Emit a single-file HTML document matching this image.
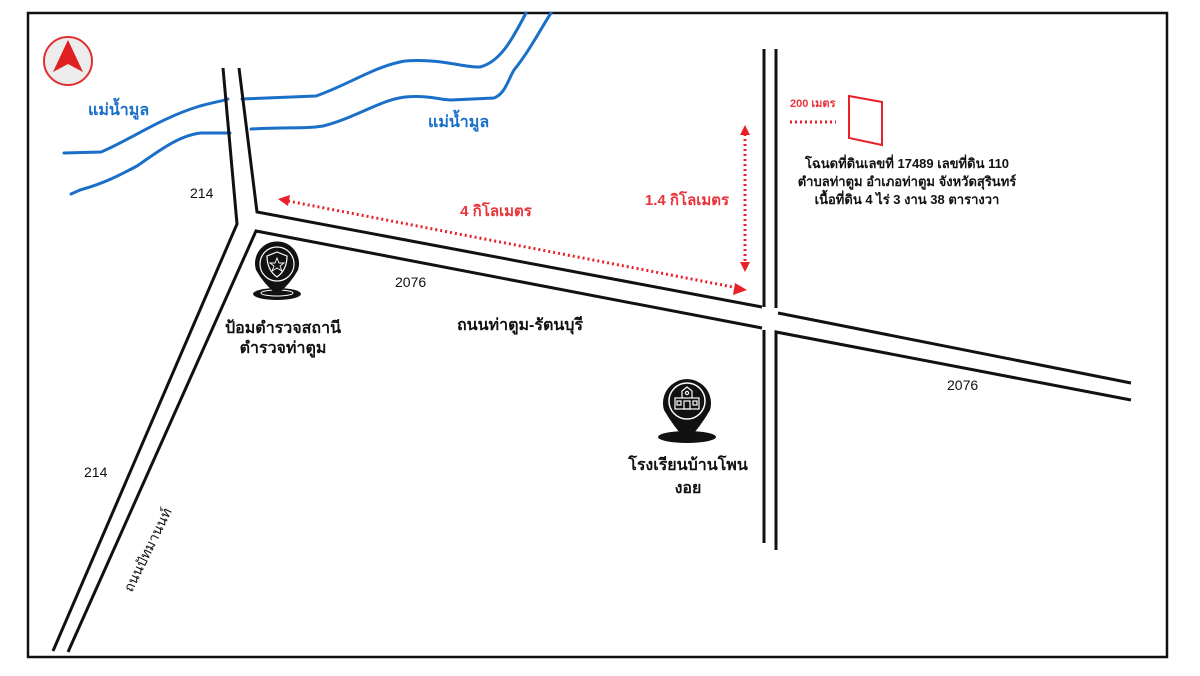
<!DOCTYPE html>
<html><head><meta charset="utf-8"><style>
html,body{margin:0;padding:0;background:#fff;}
svg{display:block;}
text{font-family:"Liberation Sans","Noto Sans CJK SC",sans-serif;}
</style></head><body>
<svg width="1200" height="676" viewBox="0 0 1200 676" xmlns="http://www.w3.org/2000/svg">
<rect x="0" y="0" width="1200" height="676" fill="#fff"/>
<rect x="28" y="13" width="1139" height="644" fill="none" stroke="#111" stroke-width="2.5"/>

<!-- rivers -->
<g fill="none" stroke="#1a6fc8" stroke-width="3" stroke-linecap="round">
<path d="M64,153 L101,152 C130,140 160,118 200,106 C215,102 222,101 228,99"/>
<path d="M242,99 L316,96 C350,84 375,66 405,61 C440,58 465,68 480,67 C500,62 512,40 526,13"/>
<path d="M71,194 L80,190 C105,183 120,175 137,166 C160,150 180,135 201,133 L230,133"/>
<path d="M251,129 C290,127 305,129 323,126 C355,118 380,100 405,97 C430,95 440,100 451,100 L494,98 C505,94 508,80 514,70 C530,50 540,30 551,13"/>
</g>

<!-- roads -->
<g fill="none" stroke="#111" stroke-width="3" stroke-linecap="butt">
<polyline points="223,68 237,224 53,651"/>
<polyline points="239,68 257,212 762,307"/>
<polyline points="68,652 256,231 762,328"/>
<line x1="764" y1="49" x2="764" y2="307"/>
<line x1="776" y1="49" x2="776" y2="308"/>
<polyline points="778,313 1131,383"/>
<line x1="764" y1="330" x2="764" y2="543"/>
<polyline points="776,550 776,332 1131,400"/>
</g>

<!-- north arrow -->
<circle cx="68" cy="61" r="24" fill="#ececec" stroke="#e03030" stroke-width="2"/>
<polygon points="68,40 83,72 68,64 53,72" fill="#e02020"/>

<!-- red dotted distances -->
<g stroke="#e8202a" stroke-width="3" stroke-dasharray="2,3" fill="none">
<line x1="288" y1="201" x2="738" y2="288"/>
<line x1="745" y1="134" x2="745" y2="263"/>
<line x1="790" y1="122" x2="836" y2="122"/>
</g>
<g fill="#e8202a">
<polygon points="278,199 290,195 288,206"/>
<polygon points="747,290 735,283 733,295"/>
<polygon points="745,125 740,135 750,135"/>
<polygon points="745,272 740,262 750,262"/>
</g>
<polygon points="849,96 882,102 882,145 849,138" fill="none" stroke="#e8202a" stroke-width="2"/>

<!-- text -->
<g font-weight="bold" fill="#1a6fc8" font-size="16">
<text x="88" y="115">แม่น้ำมูล</text>
<text x="428" y="127">แม่น้ำมูล</text>
</g>
<g fill="#e8333a" font-weight="bold">
<text x="496" y="216" font-size="15" text-anchor="middle">4 กิโลเมตร</text>
<text x="687" y="205" font-size="15" text-anchor="middle">1.4 กิโลเมตร</text>
<text x="790" y="107" font-size="11">200 เมตร</text>
</g>
<g fill="#111" font-size="14">
<text x="190" y="198">214</text>
<text x="84" y="477">214</text>
<text x="395" y="287">2076</text>
<text x="947" y="390">2076</text>
</g>
<g fill="#111" font-weight="bold" font-size="13" text-anchor="middle">
<text x="907" y="168">โฉนดที่ดินเลขที่ 17489 เลขที่ดิน 110</text>
<text x="907" y="186">ตำบลท่าตูม อำเภอท่าตูม จังหวัดสุรินทร์</text>
<text x="907" y="204">เนื้อที่ดิน 4 ไร่ 3 งาน 38 ตารางวา</text>
</g>
<g fill="#111" font-weight="bold" font-size="16" text-anchor="middle">
<text x="520" y="330">ถนนท่าตูม-รัตนบุรี</text>
<text x="283" y="333">ป้อมตำรวจสถานี</text>
<text x="283" y="353">ตำรวจท่าตูม</text>
<text x="688" y="470">โรงเรียนบ้านโพน</text>
<text x="688" y="493">งอย</text>
</g>
<text x="0" y="0" font-size="14" fill="#111" text-anchor="middle" transform="translate(152,552) rotate(-64)">ถนนปัทมานนท์</text>

<!-- police pin -->
<ellipse cx="277" cy="294" rx="24" ry="6" fill="#111"/>
<ellipse cx="277" cy="293" rx="16" ry="3" fill="none" stroke="#fff" stroke-width="1"/>
<path d="M256,270 A22,22 0 1 1 298,270 Q291,283 277,295 Q263,283 256,270 Z" fill="#111"/>
<circle cx="277" cy="264" r="17" fill="none" stroke="#fff" stroke-width="1.2"/>
<path d="M277,252 L287,256 Q287,270 277,277 Q267,270 267,256 Z" fill="none" stroke="#fff" stroke-width="1.2"/>
<polygon points="277,258 279,263 284,263 280,266 282,271 277,268 272,271 274,266 270,263 275,263" fill="none" stroke="#fff" stroke-width="0.9"/>

<!-- school pin -->
<ellipse cx="687" cy="437" rx="29" ry="6" fill="#111"/>
<path d="M664,410 A24,24 0 1 1 710,410 Q701,426 687,441 Q673,426 664,410 Z" fill="#111"/>
<circle cx="687" cy="401" r="18" fill="none" stroke="#fff" stroke-width="1.5"/>
<g fill="none" stroke="#fff" stroke-width="1.2">
<rect x="675" y="398" width="24" height="11"/>
<path d="M682,398 L682,391 L687,387 L692,391 L692,398"/>
<circle cx="687" cy="393" r="1.6"/>
<rect x="677" y="401" width="4" height="4"/>
<rect x="693" y="401" width="4" height="4"/>
<rect x="684" y="401" width="6" height="8"/>
</g>
</svg>
</body></html>
